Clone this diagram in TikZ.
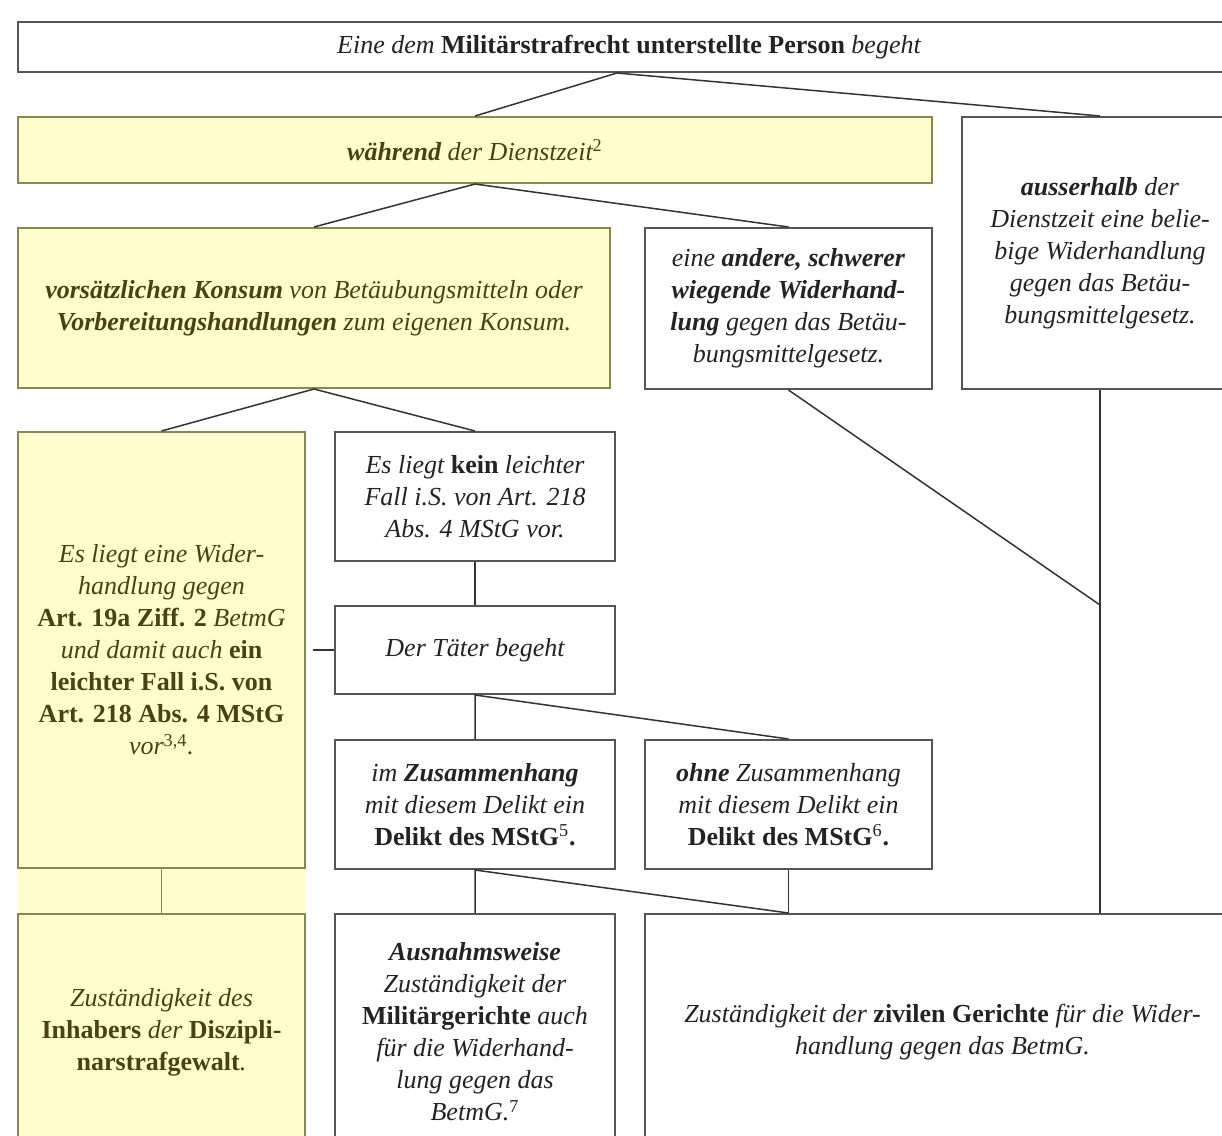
\documentclass[tikz,border=0pt]{standalone}
\usepackage{fontspec}
\setmainfont{Liberation Serif}
\usetikzlibrary{calc}

\definecolor{gelb}{RGB}{255,253,204}
\definecolor{oliv}{RGB}{140,135,80}
\definecolor{rahmen}{RGB}{85,85,85}
\definecolor{gelbtext}{RGB}{75,65,20}
\definecolor{schrift}{RGB}{35,35,35}

\newcommand{\fettk}[1]{\textbf{#1}}
\newcommand{\fettu}[1]{\textbf{\upshape #1}}
\newcommand{\fn}[1]{\textsuperscript{\upshape\mdseries #1}}

\tikzset{
  box/.style={draw=rahmen, line width=1pt, inner sep=0pt, align=center,
    text=schrift, font=\fontsize{13}{16}\selectfont\itshape},
  gelbbox/.style={box, fill=gelb, draw=oliv, text=gelbtext},
  linie/.style={draw=black!80, line width=0.75pt}
}

\begin{document}
\begin{tikzpicture}[x=0.5pt, y=-0.5pt]
\useasboundingbox (0,0) rectangle (1222,1136);
\fill[white] (0,0) rectangle (1222,1136);

% yellow strip between the two left boxes
\fill[gelb] (18,868) rectangle (305,914);

\node[box, minimum width=611pt, minimum height=25pt] (top) at (629,47)
  {Eine dem \fettu{Militärstrafrecht unterstellte Person} begeht};

\node[gelbbox, minimum width=457pt, minimum height=33pt] (waehrend) at (475,150)
  {\fettk{während} der Dienstzeit\fn{2}};
\node[box, minimum width=138pt, minimum height=136pt] (ausser) at (1100,253)
  {\fettk{ausserhalb} der\\Dienstzeit eine belie-\\bige Widerhandlung\\gegen das Betäu-\\bungsmittelgesetz.};

\node[gelbbox, minimum width=296pt, minimum height=80pt] (vors) at (314,308)
  {\fettk{vorsätzlichen Konsum} von Betäubungsmitteln oder\\\fettk{Vorbereitungshandlungen} zum eigenen Konsum.};
\node[box, minimum width=143.5pt, minimum height=80.5pt] (andere) at (788.5,308.5)
  {eine \fettk{andere, schwerer}\\\fettk{wiegende Widerhand-}\\\fettk{lung} gegen das Betäu-\\bungsmittelgesetz.};

\node[gelbbox, minimum width=143.5pt, minimum height=218pt] (eine) at (161.5,650)
  {Es liegt eine Wider-\\handlung gegen\\\fettu{Art. 19a Ziff. 2} BetmG\\und damit auch \fettu{ein}\\\fettu{leichter Fall i.S. von}\\\fettu{Art. 218 Abs. 4 MStG}\\vor\fn{3,4}.};
\node[box, minimum width=140pt, minimum height=64.5pt] (kein) at (475,496.5)
  {Es liegt \fettu{kein} leichter\\Fall i.S. von Art. 218\\Abs. 4 MStG vor.};
\node[box, minimum width=140pt, minimum height=44pt] (taeter) at (475,650)
  {Der Täter begeht};
\node[box, minimum width=140pt, minimum height=64.5pt] (imzus) at (475,804.5)
  {im \fettk{Zusammenhang}\\mit diesem Delikt ein\\\fettu{Delikt des MStG\fn{5}.}};
\node[box, minimum width=143.5pt, minimum height=64.5pt] (ohne) at (788.5,804.5)
  {\fettk{ohne} Zusammenhang\\mit diesem Delikt ein\\\fettu{Delikt des MStG\fn{6}.}};

\node[gelbbox, minimum width=143.5pt, minimum height=118pt] (inhaber) at (161.5,1032)
  {Zuständigkeit des\\\fettu{Inhabers} der \fettu{Diszipli-}\\\fettu{narstrafgewalt}.};
\node[box, minimum width=140pt, minimum height=118pt] (ausnahme) at (475,1032)
  {\fettk{Ausnahmsweise}\\Zuständigkeit der\\\fettu{Militärgerichte} auch\\für die Widerhand-\\lung gegen das\\BetmG.\fn{7}};
\node[box, minimum width=297.5pt, minimum height=118pt] (zivil) at (942.5,1032)
  {Zuständigkeit der \fettu{zivilen Gerichte} für die Wider-\\handlung gegen das BetmG.};

\coordinate (knick) at (1100,605);

% connectors
\draw[linie] (waehrend.north) -- ([xshift=-6pt]top.south) -- (ausser.north);
\draw[linie] (vors.north) -- (waehrend.south) -- (andere.north);
\draw[linie] (eine.north) -- (vors.south) -- (kein.north);
\draw[linie] (andere.south) -- (knick);
\draw[linie] (ausser.south) -- (ausser.south |- zivil.north);
\draw[linie] (kein.south) -- (taeter.north);
\draw[linie, shorten <=3.5pt] (eine.east |- taeter.west) -- (taeter.west);
\draw[linie] (imzus.north) -- (taeter.south) -- (ohne.north);
\draw[linie] (ausnahme.north) -- (imzus.south) -- (ohne.south |- zivil.north);
\draw[linie] (ohne.south) -- (ohne.south |- zivil.north);
\draw[draw=oliv, line width=0.75pt] (eine.south) -- (inhaber.north);
\end{tikzpicture}
\end{document}
